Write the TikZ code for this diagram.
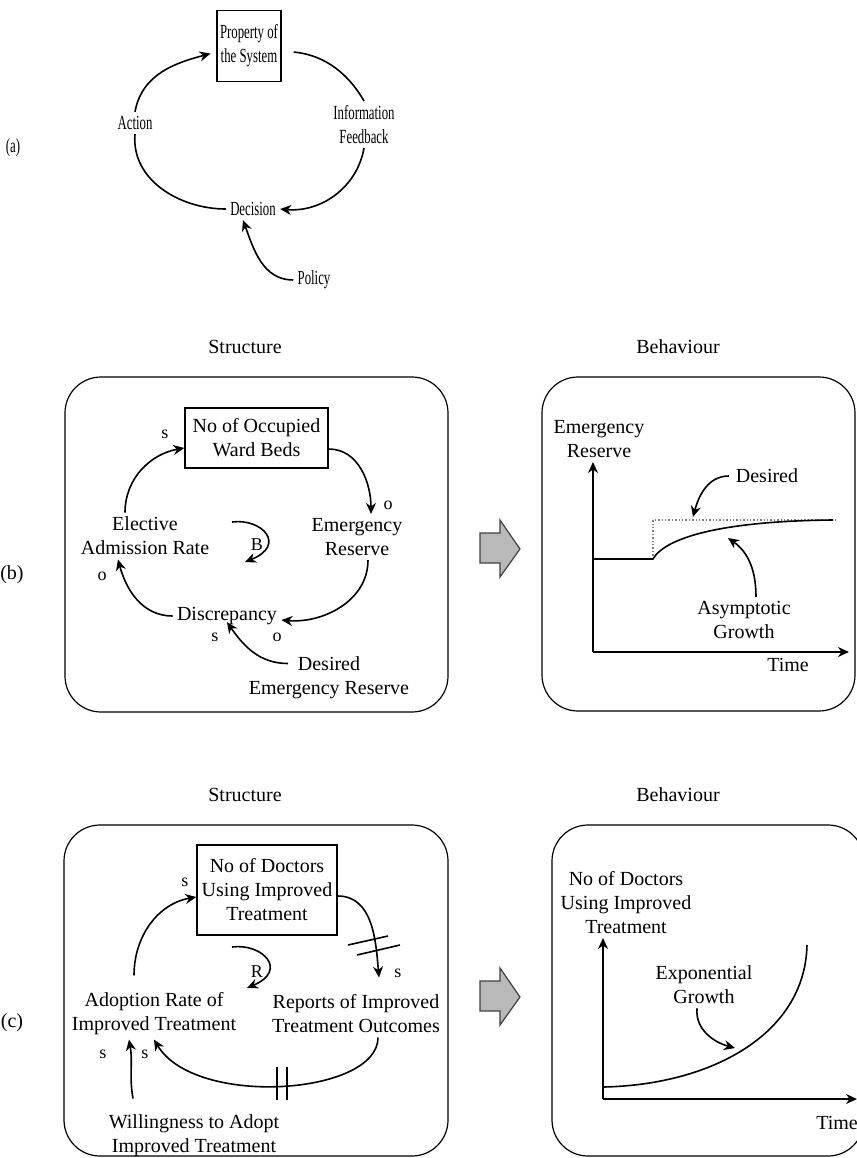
\documentclass[tikz,border=0pt]{standalone}
\usepackage{fontspec}
\setmainfont{Liberation Serif}
\newfontfamily\narrowfont{Liberation Serif}[FakeStretch=0.64]
\usepackage{xcolor}
\usepackage{tikz}
\usetikzlibrary{arrows.meta}

\tikzset{
  link/.style={-{Stealth[length=5.5pt,width=5pt]}, line width=0.8pt},
  wire/.style={line width=0.8pt},
  stock/.style={draw, line width=0.7pt, align=center, inner xsep=2pt},
  var/.style={align=center, inner sep=2pt},
  sign/.style={font=\small, inner sep=0pt},
  panel/.style={draw, line width=0.6pt, rounded corners=18pt},
}

\begin{document}
\begin{tikzpicture}[x=0.5pt, y=0.5pt]
  \useasboundingbox (0,0) rectangle (857,-1158);

  % (a) the feedback loop
  \begin{scope}[font=\narrowfont]
    \node (tagA) at (13,-148) {(a)};
    \node[stock, minimum height=35.5pt, inner xsep=1.5pt] (prop) at (249,-46) {Property of\\the System};
    \node[var] (act) at (135,-123) {Action};
    \node[var] (info) at (364,-124.5) {Information\\Feedback};
    \node[var] (dec) at (253,-209) {Decision};
    \node[var] (policy) at (314,-280) {Policy};
  \end{scope}
  \draw[link, shorten >=3pt] (act.north) to[out=80,in=195] ([yshift=-3pt]prop.west);
  \draw[wire, shorten <=6pt] ([yshift=-2.5pt]prop.east) to[out=-5,in=120] (info.north);
  \draw[link] (info.south) to[out=-100,in=-5] (dec.east);
  \draw[wire] (act.south) to[out=-95,in=180] (dec.west);
  \draw[link] (policy.west) to[out=180,in=-70] ([xshift=-5pt]dec.south);

  % (b) structure and behaviour
  \node (tagB) at (12,-575) {(b)};
  \node (strB) at (245,-347) {Structure};
  \node (behB) at (678,-347) {Behaviour};
  \draw[panel] (65,-377) rectangle (448,-712);
  \draw[panel] (542,-377) rectangle (855,-711);

  \node[stock, minimum width=71.5pt, minimum height=30pt] (beds) at (256.5,-438) {No of Occupied\\Ward Beds};
  \node[var] (elec) at (145,-536) {Elective\\Admission Rate};
  \node[var] (emer) at (357,-537) {Emergency\\Reserve};
  \node[var] (disc) at (227,-616) {Discrepancy};
  \node[var] (desi) at (329,-678) {Desired\\Emergency Reserve};

  \draw[link] ([xshift=-10pt]elec.north) to[out=90,in=190] ([yshift=-5pt]beds.west);
  \draw[link] ([yshift=-5.5pt]beds.east) to[out=0,in=90] ([xshift=7pt]emer.north);
  \draw[link] ([xshift=5.5pt]emer.south) to[out=-90,in=-5] ([yshift=-2pt]disc.east);
  \draw[link] (disc.west) to[out=180,in=-75] ([xshift=-13.5pt]elec.south);
  \draw[link] ([xshift=-20.5pt,yshift=-5.5pt]desi.north) to[out=180,in=-55] ([yshift=3.5pt]disc.south);
  \node[sign] (sB1) at (165,-434) {s};
  \node[sign] (sB2) at (388,-505) {o};
  \node[sign] (sB3) at (277,-637) {o};
  \node[sign] (sB4) at (102,-576) {o};
  \node[sign] (sB5) at (215,-637) {s};
  \coordinate (loopB) at (232,-522);
  \draw[link] (loopB) .. controls (262,-518) and (287,-545) .. (245,-562);
  \node[sign] (balB) at (257,-545) {B};

  \node[var] (yB) at (599,-439) {Emergency\\Reserve};
  \coordinate (oB) at (593,-652);
  \draw[link] (oB) -- (593,-462);
  \draw[link] (oB) -- (849,-652);
  \node (tB) at (788,-665) {Time};
  \draw[densely dotted, gray, line width=0.7pt] (653,-559) -- (653,-520) -- (837,-520);
  \draw[wire] (593,-559) -- (653,-559) .. controls (665,-538) and (720,-521) .. (833,-520);
  \node (desB) at (767,-476) {Desired};
  \coordinate (desPt) at (693,-517);
  \draw[link] (desB.west) to[out=180,in=75] (desPt);
  \node[var] (asyB) at (744,-620) {Asymptotic\\Growth};
  \coordinate (asyPt) at (728,-538);
  \draw[link] ([xshift=6pt]asyB.north) to[out=90,in=-35] (asyPt);

  % block arrows structure -> behaviour
  \foreach \dy in {0,448}{
    \draw[fill=gray!55, draw=black!75, line width=0.6pt] (480,-533-\dy) -- (500,-533-\dy) -- (500,-520-\dy) -- (520,-549-\dy) -- (500,-577-\dy) -- (500,-563-\dy) -- (480,-563-\dy) -- cycle;
  }

  % (c) structure and behaviour
  \node (tagC) at (12,-1023) {(c)};
  \node (strC) at (245,-795) {Structure};
  \node (behC) at (678,-795) {Behaviour};
  \draw[panel] (64,-825) rectangle (448,-1156);
  \draw[panel] (552,-825) rectangle (864,-1156);

  \node[stock, minimum width=70pt, minimum height=45pt, inner xsep=1pt] (docs) at (267,-890) {No of Doctors\\Using Improved\\Treatment};
  \node[var] (adop) at (154,-1014) {Adoption Rate of\\Improved Treatment};
  \node[var] (repo) at (356,-1014) {Reports of Improved\\Treatment Outcomes};
  \node[var] (will) at (194,-1136) {Willingness to Adopt\\Improved Treatment};

  \draw[link] ([xshift=-10pt,yshift=6.5pt]adop.north) to[out=90,in=190] ([yshift=-3.5pt]docs.west);
  \draw[link] ([yshift=-3pt]docs.east) to[out=0,in=95] ([xshift=11.5pt,yshift=6.5pt]repo.north);
  \draw[link] ([xshift=11pt]repo.south) .. controls (378,-1095) and (195,-1108) .. (adop.south);
  \draw[link] ([xshift=-30.5pt,yshift=6pt]will.north) to[out=100,in=-80] ([xshift=-12.5pt]adop.south);
  \draw[wire] (348,-945) -- (388,-936);
  \draw[wire] (357,-955) -- (400,-945);
  \draw[wire] (277,-1067) -- (277,-1100);
  \draw[wire] (287,-1067) -- (287,-1100);
  \node[sign] (sC1) at (185,-882) {s};
  \node[sign] (sC2) at (398,-973) {s};
  \node[sign] (sC3) at (145,-1054) {s};
  \node[sign] (sC4) at (103,-1054) {s};
  \coordinate (loopC) at (232,-947);
  \draw[link] (loopC) .. controls (262,-943) and (289,-970) .. (247,-988);
  \node[sign] (reiC) at (257,-972) {R};

  \node[var] (yC) at (626,-903) {No of Doctors\\Using Improved\\Treatment};
  \coordinate (oC) at (603,-1099);
  \draw[link] (oC) -- (603,-938);
  \draw[link] (oC) -- (857,-1099);
  \node (tC) at (837,-1123) {Time};
  \draw[wire] (603,-1087) .. controls (710,-1085) and (805,-1035) .. (807,-945);
  \node[var] (expC) at (704,-985) {Exponential\\Growth};
  \coordinate (expPt) at (735,-1048);
  \draw[link] ([xshift=-3.5pt]expC.south) to[out=-95,in=165] (expPt);
\end{tikzpicture}
\end{document}
